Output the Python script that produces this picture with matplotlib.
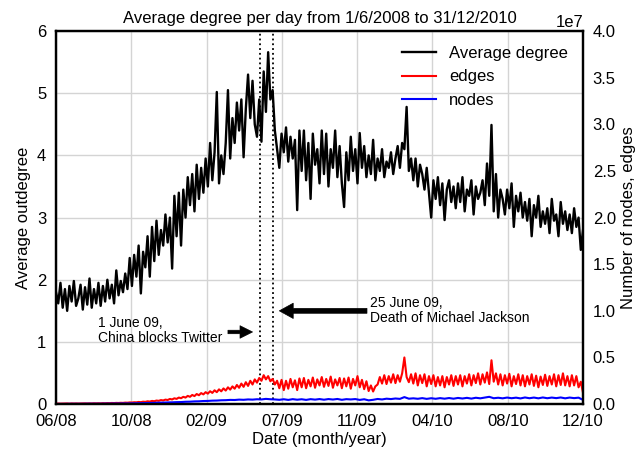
import numpy as np
import matplotlib
matplotlib.use("Agg")
import matplotlib.pyplot as plt

plt.rcParams["font.family"] = ["Liberation Sans", "DejaVu Sans"]

# day index since 1/6/2008
n_days = 944
days_deg = np.arange(0, n_days + 1, 4)
days_nodes = np.arange(0, n_days + 1, 8)

avg_degree = [
    1.80, 1.62, 1.95, 1.55, 1.85, 1.50, 1.90, 1.65, 1.98, 1.58,
    1.70, 1.92, 1.52, 1.88, 1.60, 2.02, 1.55, 1.85, 1.62, 1.95,
    1.58, 1.90, 1.65, 2.00, 1.70, 1.92, 1.62, 2.15, 1.75, 1.98,
    1.80, 2.10, 1.85, 2.35, 1.90, 2.40, 2.05, 2.55, 1.78, 2.45,
    2.20, 2.70, 2.05, 2.85, 2.30, 2.95, 2.40, 2.80, 2.55, 3.05,
    2.60, 3.00, 2.18, 3.35, 2.70, 3.40, 2.55, 3.45, 3.00, 3.65,
    3.20, 3.70, 3.10, 3.85, 3.30, 3.80, 3.40, 3.95, 3.50, 4.20,
    3.60, 4.05, 5.02, 3.55, 4.00, 3.70, 4.20, 5.05, 3.95, 4.60,
    4.20, 4.85, 4.40, 4.90, 3.97, 4.75, 5.30, 4.60, 5.20, 4.50,
    4.30, 4.90, 4.22, 5.35, 4.70, 5.66, 4.90, 5.05, 4.40, 4.10,
    3.80, 4.35, 4.05, 4.45, 3.90, 4.30, 3.95, 4.25, 3.12, 4.40,
    3.75, 4.40, 3.60, 4.20, 3.30, 4.35, 3.85, 4.10, 3.55, 4.40,
    3.70, 4.35, 3.50, 4.10, 3.80, 4.40, 3.65, 4.15, 3.55, 3.17,
    4.05, 3.60, 4.30, 3.75, 4.10, 3.55, 4.36, 3.80, 4.15, 3.65,
    4.00, 3.70, 4.25, 3.60, 3.95, 3.75, 4.10, 3.65, 3.90, 3.80,
    4.05, 3.70, 3.95, 4.15, 3.80, 4.20, 4.10, 4.78, 3.75, 3.95,
    3.60, 3.95, 3.50, 3.85, 3.70, 3.45, 3.80, 3.40, 3.00, 3.60,
    3.30, 3.65, 3.20, 3.55, 2.96, 3.45, 3.60, 3.25, 3.50, 3.15,
    3.55, 3.25, 3.65, 3.10, 3.45, 3.35, 3.60, 3.05, 3.50, 3.30,
    3.40, 3.60, 3.20, 3.87, 3.35, 4.49, 3.10, 3.70, 3.00, 3.45,
    3.30, 3.05, 3.45, 3.15, 3.55, 2.85, 3.35, 3.10, 3.40, 3.00,
    3.25, 2.95, 3.30, 2.70, 3.20, 3.00, 3.35, 2.85, 3.10, 2.90,
    3.15, 2.75, 3.30, 2.95, 3.05, 2.70, 3.25, 2.90, 3.10, 2.80,
    3.05, 2.75, 3.15, 2.85, 3.00, 2.48, 2.80,
]

# edges (every 4 days) and nodes (every 8 days), in units of 1e7
edges = [
    0.005, 0.006, 0.005, 0.006, 0.006, 0.007, 0.005, 0.007, 0.006, 0.007,
    0.006, 0.007, 0.007, 0.008, 0.007, 0.008, 0.007, 0.009, 0.008, 0.009,
    0.008, 0.010, 0.009, 0.011, 0.010, 0.012, 0.011, 0.013, 0.012, 0.014,
    0.013, 0.016, 0.015, 0.018, 0.017, 0.020, 0.019, 0.023, 0.021, 0.026,
    0.024, 0.030, 0.027, 0.034, 0.031, 0.038, 0.035, 0.043, 0.039, 0.048,
    0.044, 0.055, 0.050, 0.062, 0.056, 0.070, 0.063, 0.078, 0.070, 0.088,
    0.078, 0.098, 0.086, 0.108, 0.095, 0.118, 0.104, 0.128, 0.112, 0.138,
    0.120, 0.148, 0.128, 0.158, 0.137, 0.168, 0.145, 0.180, 0.155, 0.190,
    0.165, 0.205, 0.175, 0.220, 0.185, 0.235, 0.195, 0.250, 0.210, 0.265,
    0.230, 0.280, 0.250, 0.310, 0.265, 0.300, 0.245, 0.270, 0.210, 0.250,
    0.170, 0.260, 0.150, 0.250, 0.165, 0.270, 0.180, 0.255, 0.150, 0.275,
    0.180, 0.280, 0.170, 0.260, 0.190, 0.285, 0.175, 0.265, 0.200, 0.290,
    0.185, 0.270, 0.195, 0.295, 0.175, 0.265, 0.200, 0.280, 0.170, 0.275,
    0.190, 0.285, 0.165, 0.270, 0.200, 0.300, 0.180, 0.260, 0.160, 0.245,
    0.140, 0.200, 0.135, 0.190, 0.210, 0.290, 0.220, 0.310, 0.215, 0.300,
    0.230, 0.320, 0.225, 0.310, 0.240, 0.330, 0.500, 0.290, 0.235, 0.320,
    0.220, 0.330, 0.200, 0.310, 0.225, 0.320, 0.190, 0.300, 0.215, 0.310,
    0.190, 0.290, 0.200, 0.300, 0.180, 0.290, 0.210, 0.310, 0.195, 0.300,
    0.210, 0.310, 0.190, 0.300, 0.220, 0.320, 0.200, 0.310, 0.225, 0.330,
    0.210, 0.320, 0.230, 0.340, 0.215, 0.470, 0.240, 0.330, 0.210, 0.320,
    0.200, 0.310, 0.220, 0.325, 0.190, 0.300, 0.215, 0.320, 0.200, 0.310,
    0.190, 0.300, 0.210, 0.320, 0.195, 0.305, 0.180, 0.295, 0.205, 0.315,
    0.195, 0.300, 0.210, 0.320, 0.190, 0.310, 0.205, 0.330, 0.200, 0.300,
    0.190, 0.310, 0.200, 0.300, 0.180, 0.240, 0.120,
]

nodes = [
    0.002, 0.002, 0.002, 0.003, 0.003, 0.003, 0.003, 0.004, 0.004, 0.004,
    0.004, 0.005, 0.005, 0.006, 0.006, 0.007, 0.007, 0.008, 0.009, 0.010,
    0.011, 0.012, 0.013, 0.015, 0.016, 0.018, 0.019, 0.021, 0.022, 0.025,
    0.026, 0.029, 0.030, 0.033, 0.034, 0.037, 0.038, 0.041, 0.042, 0.045,
    0.044, 0.048, 0.046, 0.050, 0.048, 0.052, 0.050, 0.056, 0.052, 0.050,
    0.046, 0.052, 0.045, 0.053, 0.047, 0.052, 0.045, 0.053, 0.048, 0.054,
    0.047, 0.054, 0.049, 0.055, 0.046, 0.053, 0.050, 0.054, 0.045, 0.052,
    0.040, 0.046, 0.055, 0.050, 0.058, 0.054, 0.060, 0.056, 0.075, 0.058,
    0.062, 0.057, 0.064, 0.056, 0.063, 0.057, 0.064, 0.058, 0.065, 0.058,
    0.066, 0.060, 0.067, 0.059, 0.068, 0.062, 0.070, 0.078, 0.063, 0.068,
    0.062, 0.070, 0.063, 0.069, 0.061, 0.071, 0.063, 0.070, 0.062, 0.071,
    0.063, 0.070, 0.064, 0.071, 0.062, 0.070, 0.064, 0.069,
    0.045,
]

tick_labels = ["06/08", "10/08", "02/09", "07/09", "11/09", "04/10", "08/10", "12/10"]
day_china = 365   # 1 June 09
day_mj = 389      # 25 June 09

fig = plt.figure(figsize=(6.4, 4.5), dpi=100)
ax = fig.add_axes([0.0875, 0.102, 0.8235, 0.829])
ax2 = ax.twinx()

l1, = ax.plot(days_deg, avg_degree, color="black", lw=1.7, label="Average degree")
l2, = ax2.plot(days_deg, np.array(edges) * 1e7, color="red", lw=1.5, label="edges")
l3, = ax2.plot(days_nodes, np.array(nodes) * 1e7, color="blue", lw=1.5, label="nodes")

ax.axvline(day_china, color="black", ls=":", lw=1.3)
ax.axvline(day_mj, color="black", ls=":", lw=1.3)

ax.set_xlim(0, n_days)
ax.set_ylim(0, 6)
ax2.set_ylim(0, 4e7)
ax.set_xticks(np.linspace(0, n_days, 8))
ax.set_xticklabels(tick_labels)
ax.set_yticks(range(7))
ax2.set_yticks(np.arange(0, 4.01e7, 0.5e7))
ax.grid(True, color="#d4d4d4", lw=1)
ax.set_axisbelow(True)

ax.tick_params(axis="x", length=0, pad=7, labelsize=12)
ax.tick_params(axis="y", length=0, pad=7, labelsize=12)
ax2.tick_params(axis="y", length=0, pad=7, labelsize=12)
ax2.yaxis.get_offset_text().set_fontsize(12)

for a in (ax, ax2):
    for s in a.spines.values():
        s.set_linewidth(1.6)

ax.set_title("Average degree per day from 1/6/2008 to 31/12/2010", fontsize=12, pad=6)
ax.set_xlabel("Date (month/year)", fontsize=12, labelpad=2)
ax.set_ylabel("Average outdegree", fontsize=12)
ax2.set_ylabel("Number of nodes, edges", fontsize=12)

ax2.annotate("", xy=(352, 1.16 * 4e7 / 6), xytext=(308, 1.16 * 4e7 / 6),
             arrowprops=dict(facecolor="black", edgecolor="black", width=2.5,
                             headwidth=9, headlength=9, lw=0.5))
ax2.annotate("", xy=(400, 1.50 * 4e7 / 6), xytext=(557, 1.50 * 4e7 / 6),
             arrowprops=dict(facecolor="black", edgecolor="black", width=3.5,
                             headwidth=11, headlength=10, lw=0.5))
ax2.text(75, 1.18 * 4e7 / 6, "1 June 09,\nChina blocks Twitter", fontsize=10,
         ha="left", va="center", linespacing=1.1)
ax2.text(563, 1.50 * 4e7 / 6, "25 June 09,\nDeath of Michael Jackson", fontsize=10,
         ha="left", va="center", linespacing=1.1)

ax2.legend([l1, l2, l3], ["Average degree", "edges", "nodes"], loc="upper right",
           frameon=False, fontsize=12)

fig.savefig("out.png", dpi=100)
